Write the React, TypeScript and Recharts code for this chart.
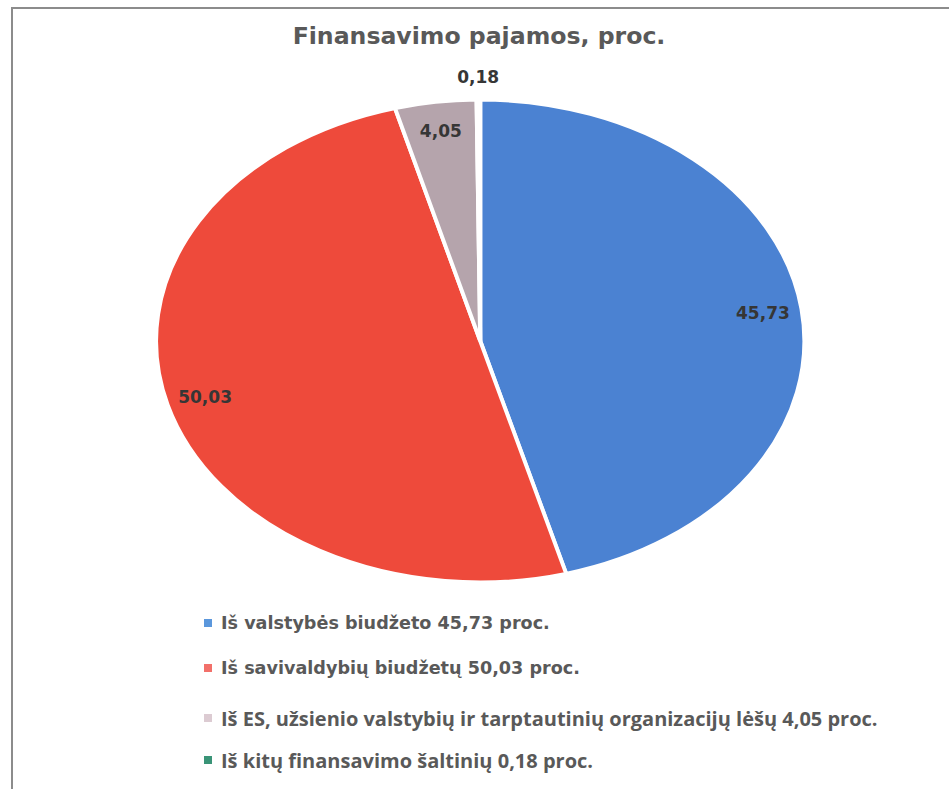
import { PieChart, Pie, Cell } from 'recharts';

const categories = [
  'Iš valstybės biudžeto',
  'Iš savivaldybių biudžetų',
  'Iš ES, užsienio valstybių ir tarptautinių organizacijų lėšų',
  'Iš kitų finansavimo šaltinių'
];
const values = [45.73, 50.03, 4.05, 0.18];
const sliceColors = ['#4b82d2', '#ee4a3b', '#b5a4ac', '#2f8f6f'];
const legendColors = ['#5b97dc', '#f2706a', '#dccbd2', '#3a9477'];
const legendFonts = ['"DejaVu Sans"', '"DejaVu Sans"', '"Open Sans"', '"Open Sans"'];
const legendSizes = [17.6, 17.6, 20, 20];
const legendRows = [623, 668, 718, 760];

const data = categories.map((name, i) => ({ name, value: values[i] }));
const fmt = (v: number) => v.toFixed(2).replace('.', ',');

const SX = 1.345;
const R = 241;
const CX = 250;
const CY = 280;

const renderLabel = (p: any) => {
  const rad = Math.PI / 180;
  const r = p.percent < 0.01 ? p.outerRadius + 23 : p.outerRadius * 0.88;
  const x = p.cx + r * Math.cos(-p.midAngle * rad);
  const y = p.cy + r * Math.sin(-p.midAngle * rad);
  return (
    <text
      x={x}
      y={y}
      textAnchor="middle"
      dominantBaseline="central"
      transform={`matrix(${1 / SX},0,0,1,${x * (1 - 1 / SX)},0)`}
      style={{ fontFamily: '"DejaVu Sans", sans-serif', fontWeight: 700, fontSize: 17, fill: '#363636' }}
    >
      {fmt(p.value)}
    </text>
  );
};

export default function App() {
  return (
    <div style={{ position: 'absolute', left: 0, top: 0, width: 949, height: 789, overflow: 'hidden', background: '#fff' }}>
      <div style={{ position: 'absolute', left: 11, top: 7, width: 980, height: 820, border: '2px solid #8c8c8c' }} />
      <div
        style={{
          position: 'absolute', left: 0, width: 958, top: 21, textAlign: 'center',
          fontFamily: '"DejaVu Sans", sans-serif', fontWeight: 700, fontSize: 23.6, lineHeight: '30px', color: '#595959'
        }}
      >
        Finansavimo pajamos, proc.
      </div>
      <div style={{ position: 'absolute', left: 480.5 - CX * SX, top: 341 - CY, transform: `scaleX(${SX})`, transformOrigin: '0 0' }}>
        <PieChart width={500} height={560} margin={{ top: 0, right: 0, bottom: 0, left: 0 }}>
          <Pie
            data={data}
            dataKey="value"
            nameKey="name"
            cx={CX}
            cy={CY}
            outerRadius={R}
            startAngle={90}
            endAngle={-270}
            stroke="#ffffff"
            strokeWidth={3}
            label={renderLabel}
            labelLine={false}
            isAnimationActive={false}
          >
            {data.map((_d, i) => (
              <Cell key={i} fill={sliceColors[i]} />
            ))}
          </Pie>
        </PieChart>
      </div>
      {data.map((d, i) => (
        <div
          key={d.name}
          style={{
            position: 'absolute', left: 204, top: legendRows[i] - 12, height: 24, display: 'flex', alignItems: 'center',
            fontFamily: `${legendFonts[i]}, sans-serif`, fontWeight: 700, fontSize: legendSizes[i], color: '#595959', whiteSpace: 'nowrap'
          }}
        >
          <span style={{ display: 'inline-block', width: 8, height: 8, background: legendColors[i], marginRight: 9 }} />
          {`${d.name} ${fmt(d.value)} proc.`}
        </div>
      ))}
    </div>
  );
}
